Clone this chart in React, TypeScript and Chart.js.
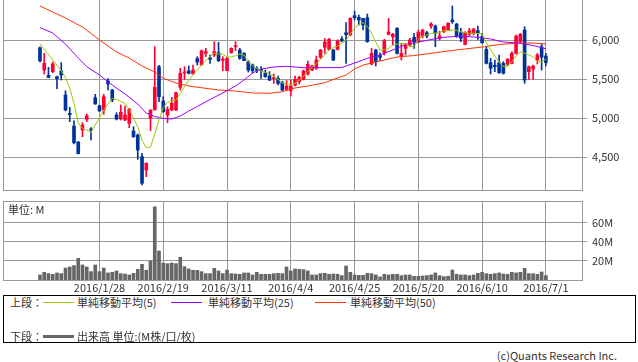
import React, { useEffect, useRef } from "react";
import { Chart, registerables } from "chart.js";

Chart.register(...registerables);

const FONT = "'Noto Sans CJK JP', 'DejaVu Sans', sans-serif";

// Daily candles, 2016/1/7 .. 2016/7/1 (index 0..119)
const opens = [
  5901, 5615, 5547, 5594, 5530, 5603, 5295, 5060, 4897, 4692,
  4846, 4983, 4859, 5260, 5158, 5103, 5474, 5359, 5038, 4987,
  4974, 4932, 4833, 4782, 4504, 4333, 4996, 5103, 5658, 5218,
  5038, 5103, 5103, 5394, 5577, 5603, 5564, 5761, 5680, 5829,
  5773, 5808, 5837, 5740, 5606, 5837, 5914, 5872, 5829, 5722,
  5680, 5632, 5624, 5581, 5538, 5504, 5509, 5453, 5368, 5350,
  5423, 5466, 5496, 5564, 5615, 5637, 5778, 5906, 5880, 5872,
  5880, 6013, 6094, 6064, 6312, 6291, 6278, 6286, 5692, 5872,
  5799, 5837, 6073, 6043, 6150, 5786, 5893, 5936, 6034, 5979,
  6051, 6094, 6180, 6180, 6021, 6107, 6128, 6256, 6205, 6094,
  5944, 6073, 6086, 6120, 6043, 5880, 5709, 5676, 5709, 5701,
  5688, 5701, 5829, 5979, 6128, 5594, 5628, 5744, 5914, 5795,
];
const highs = [
  5914, 5829, 5650, 5718, 5538, 5709, 5350, 5137, 4965, 4700,
  4940, 5051, 4876, 5304, 5165, 5304, 5504, 5368, 5068, 5167,
  5154, 5124, 4889, 4795, 4547, 4427, 5103, 5914, 5676, 5273,
  5145, 5265, 5333, 5637, 5658, 5667, 5680, 5786, 5872, 5893,
  5808, 5979, 5970, 5786, 5778, 5901, 5979, 5893, 5840, 5735,
  5692, 5658, 5658, 5615, 5594, 5564, 5538, 5470, 5479, 5487,
  5538, 5538, 5615, 5731, 5680, 5795, 5880, 6021, 6021, 5880,
  6004, 6043, 6222, 6286, 6372, 6320, 6278, 6333, 5893, 5880,
  5837, 6009, 6278, 6086, 6158, 5957, 5957, 6021, 6086, 6128,
  6137, 6111, 6222, 6192, 6111, 6180, 6222, 6436, 6214, 6150,
  6107, 6150, 6150, 6180, 6086, 5914, 5765, 5744, 5808, 5722,
  5765, 5850, 6064, 6086, 6171, 5667, 5680, 5829, 5949, 5829,
];
const lows = [
  5718, 5564, 5515, 5581, 5376, 5487, 5090, 4953, 4667, 4540,
  4760, 4953, 4718, 5176, 5085, 5047, 5359, 5209, 4974, 4974,
  4966, 4876, 4752, 4470, 4141, 4248, 4837, 5103, 5209, 5073,
  4940, 5094, 5094, 5359, 5496, 5564, 5564, 5680, 5680, 5786,
  5701, 5786, 5722, 5606, 5606, 5829, 5863, 5752, 5735, 5590,
  5577, 5581, 5509, 5521, 5478, 5444, 5423, 5350, 5350, 5282,
  5410, 5436, 5487, 5551, 5606, 5624, 5765, 5829, 5872, 5735,
  5872, 5979, 5701, 6055, 6256, 6192, 6128, 5970, 5680, 5667,
  5735, 5808, 6064, 5936, 5820, 5744, 5808, 5914, 5893, 5966,
  6026, 6026, 6150, 5914, 5998, 6094, 6120, 6214, 6034, 5979,
  5936, 6051, 6064, 6009, 5957, 5692, 5564, 5594, 5573, 5564,
  5667, 5692, 5820, 5966, 5444, 5496, 5496, 5692, 5615, 5667,
];
const closes = [
  5731, 5701, 5520, 5692, 5504, 5551, 5103, 5042, 4683, 4542,
  4910, 5029, 4846, 5180, 5090, 5273, 5436, 5231, 4987, 5073,
  5038, 5112, 4760, 4590, 4163, 4419, 5103, 5394, 5273, 5081,
  5112, 5188, 5325, 5573, 5590, 5573, 5615, 5718, 5863, 5850,
  5752, 5850, 5735, 5752, 5765, 5893, 5927, 5765, 5735, 5615,
  5606, 5615, 5606, 5530, 5487, 5517, 5444, 5359, 5410, 5410,
  5496, 5521, 5603, 5688, 5667, 5744, 5872, 5974, 6009, 5744,
  5991, 5987, 6068, 6278, 6286, 6256, 6192, 5979, 5829, 5722,
  5778, 5991, 6103, 6073, 5829, 5829, 5944, 6000, 5979, 6098,
  6128, 6051, 6205, 6086, 6051, 6171, 6214, 6235, 6043, 6021,
  6094, 6120, 6141, 6086, 5966, 5701, 5637, 5658, 5581, 5573,
  5752, 5829, 6051, 6073, 5487, 5658, 5667, 5808, 5778, 5709,
];
// Volume, millions of shares
const volumes = [
  5.3, 8.1, 6.7, 6.0, 7.4, 6.7, 12.6, 13.7, 15.1, 22.8,
  15.8, 13.7, 8.8, 15.8, 8.8, 12.6, 7.4, 8.1, 9.5, 6.7,
  6.3, 5.3, 7.0, 11.2, 16.5, 10.2, 20.0, 76.9, 30.5, 17.9,
  17.2, 17.9, 17.2, 23.9, 14.0, 11.6, 10.2, 10.2, 8.8, 6.7,
  6.7, 12.3, 9.5, 6.7, 10.5, 6.7, 6.3, 6.0, 7.4, 7.4,
  5.3, 8.1, 6.0, 6.0, 6.0, 6.7, 7.0, 6.7, 13.7, 9.5,
  11.6, 11.2, 10.9, 9.5, 5.3, 5.3, 6.7, 7.0, 6.0, 6.3,
  6.0, 4.6, 14.7, 8.1, 5.3, 4.9, 4.9, 7.0, 6.7, 5.3,
  3.2, 6.0, 5.3, 6.0, 6.0, 4.6, 5.3, 5.3, 3.9, 3.9,
  4.2, 4.6, 5.3, 7.4, 4.6, 3.5, 3.9, 10.5, 6.0, 5.3,
  5.3, 4.6, 5.3, 7.0, 8.1, 6.7, 6.0, 6.7, 7.4, 6.3,
  6.0, 8.1, 7.4, 8.1, 12.3, 6.7, 6.7, 6.0, 8.4, 4.6,
];
// Simple moving average (5), one value per candle
const ma5 = [
  5953, 5885, 5814, 5744, 5679, 5603, 5519, 5385, 5188, 4936,
  4868, 4846, 4814, 4910, 5006, 5103, 5180, 5253, 5237, 5212,
  5186, 5109, 5000, 4885, 4718, 4615, 4628, 4795, 4974, 5135,
  5199, 5218, 5231, 5314, 5404, 5487, 5551, 5615, 5673, 5737,
  5788, 5827, 5821, 5817, 5782, 5782, 5799, 5821, 5808, 5718,
  5673, 5635, 5603, 5583, 5564, 5532, 5496, 5449, 5436, 5432,
  5445, 5487, 5538, 5596, 5654, 5692, 5756, 5801, 5872, 5904,
  5923, 5958, 5994, 6077, 6154, 6199, 6222, 6173, 6090, 5974,
  5865, 5878, 5891, 5936, 5949, 5958, 5949, 5923, 5914, 6006,
  6051, 6064, 6083, 6090, 6096, 6119, 6119, 6128, 6122, 6106,
  6096, 6086, 6086, 6083, 6077, 5962, 5878, 5795, 5718, 5658,
  5667, 5722, 5795, 5846, 5833, 5808, 5786, 5722, 5722, 5756,
];
// Simple moving average (25), read at these candle indices
const ma25Idx = [0, 3, 6, 9, 11, 14, 17, 20, 23, 25, 27, 29, 31, 33, 35, 37, 40, 43, 46, 48, 50, 52, 55, 58, 62, 67, 71, 74, 77, 80, 83, 86, 89, 92, 95, 99, 103, 106, 109, 113, 116, 119];
const ma25Val = [6158, 6090, 5949, 5769, 5658, 5551, 5423, 5308, 5180, 5064, 5019, 4996, 4987, 5026, 5090, 5148, 5237, 5321, 5410, 5487, 5577, 5628, 5654, 5663, 5645, 5645, 5647, 5705, 5765, 5808, 5872, 5942, 5974, 6006, 6035, 6051, 6035, 6013, 5974, 5958, 5929, 5888];
// Simple moving average (50), read at these candle indices
const ma50Idx = [0, 6, 10, 14, 18, 21, 24, 27, 29, 32, 35, 38, 42, 46, 50, 54, 57, 60, 63, 67, 70, 72, 74, 76, 78, 80, 84, 88, 92, 96, 100, 104, 108, 112, 116, 119];
const ma50Val = [6436, 6282, 6167, 6000, 5846, 5769, 5667, 5590, 5509, 5449, 5410, 5388, 5359, 5346, 5321, 5317, 5337, 5385, 5410, 5453, 5513, 5551, 5628, 5679, 5705, 5731, 5782, 5801, 5829, 5859, 5885, 5910, 5942, 5958, 5962, 5949];

const tickIndex = [14, 29, 44, 59, 74, 89, 104, 119];
const tickLabels = ["2016/1/28", "2016/2/19", "2016/3/11", "2016/4/4", "2016/4/25", "2016/5/20", "2016/6/10", "2016/7/1"];
const priceTicks = [4500, 5000, 5500, 6000];
const volumeTicks = [20, 40, 60];

const UP = "#ff0033";
const DOWN = "#003399";
const GRID = "#999999";
const TEXT = "#333333";
const X_MIN = -8.7;
const X_MAX = 127.5;

const noPad = (s: any) => {
  s.paddingTop = 0;
  s.paddingBottom = 0;
  s.paddingLeft = 0;
  s.paddingRight = 0;
};

export default function App() {
  const priceRef = useRef<HTMLCanvasElement>(null);
  const volRef = useRef<HTMLCanvasElement>(null);

  useEffect(() => {
    Chart.defaults.font.family = FONT;
    Chart.defaults.font.size = 11;
    const idx = opens.map((_, i) => i);
    const colors = idx.map((i) => (closes[i] >= opens[i] ? UP : DOWN));

    const xBase = (labels: boolean): any => ({
      type: "linear",
      min: X_MIN,
      max: X_MAX,
      offset: false,
      afterBuildTicks: (s: any) => {
        s.ticks = tickIndex.map((v) => ({ value: v }));
      },
      grid: { color: GRID, drawTicks: false, offset: false, lineWidth: 1 },
      border: { display: true, color: GRID },
      ticks: labels
        ? {
            display: true,
            autoSkip: false,
            maxRotation: 0,
            padding: 1,
            color: TEXT,
            font: { family: FONT, size: 11 },
            callback: (_v: any, i: number) => tickLabels[i],
          }
        : { display: false },
      afterFit: (s: any) => {
        s.height = labels ? 14 : 0;
        noPad(s);
      },
    });

    const leftBorder: any = {
      type: "linear",
      position: "left",
      display: true,
      grid: { display: false },
      ticks: { display: false },
      border: { display: true, color: GRID },
      afterFit: (s: any) => {
        s.width = 0;
        noPad(s);
      },
    };

    const yRight = (min: number, max: number, ticks: number[], fmt: (v: number) => string): any => ({
      type: "linear",
      position: "right",
      min,
      max,
      afterBuildTicks: (s: any) => {
        s.ticks = ticks.map((v) => ({ value: v }));
      },
      grid: { color: GRID, tickLength: 5, drawTicks: true },
      border: { display: true, color: GRID },
      ticks: {
        padding: 5,
        color: TEXT,
        font: { family: FONT, size: 11 },
        callback: (v: any) => fmt(Number(v)),
      },
      afterFit: (s: any) => {
        s.width = 56;
        noPad(s);
      },
    });

    const price = new Chart(priceRef.current as HTMLCanvasElement, {
      type: "bar",
      data: {
        datasets: [
          {
            type: "line",
            data: ma5.map((v, i) => ({ x: i, y: v })),
            borderColor: "#99cc00",
            borderWidth: 1,
            pointRadius: 0,
            tension: 0,
            order: 0,
          } as any,
          {
            type: "line",
            data: ma25Idx.map((x, k) => ({ x, y: ma25Val[k] })),
            borderColor: "#9900ff",
            borderWidth: 1,
            pointRadius: 0,
            tension: 0,
            order: 0,
          } as any,
          {
            type: "line",
            data: ma50Idx.map((x, k) => ({ x, y: ma50Val[k] })),
            borderColor: "#ff3300",
            borderWidth: 1,
            pointRadius: 0,
            tension: 0,
            order: 0,
          } as any,
          {
            type: "bar",
            data: idx.map((i) => ({ x: i, y: [opens[i], closes[i]] })),
            backgroundColor: colors,
            barThickness: 3,
            minBarLength: 1,
            grouped: false,
            order: 1,
          } as any,
          {
            type: "bar",
            data: idx.map((i) => ({ x: i, y: [lows[i], highs[i]] })),
            backgroundColor: colors,
            barThickness: 1,
            grouped: false,
            order: 2,
          } as any,
        ],
      },
      options: {
        animation: false,
        responsive: false,
        events: [],
        layout: { padding: { left: 3, right: 0, top: 0, bottom: 1 } },
        plugins: { legend: { display: false }, tooltip: { enabled: false } },
        scales: {
          x: xBase(false),
          y: yRight(4077, 6513, priceTicks, (v) => v.toLocaleString("en-US")),
          yL: leftBorder,
        },
      } as any,
    });

    const vol = new Chart(volRef.current as HTMLCanvasElement, {
      type: "bar",
      data: {
        datasets: [
          {
            data: volumes.map((v, i) => ({ x: i, y: v })),
            backgroundColor: "#666666",
            barThickness: 3,
            grouped: false,
          } as any,
        ],
      },
      options: {
        animation: false,
        responsive: false,
        events: [],
        layout: { padding: { left: 3, right: 0, top: 5, bottom: 0 } },
        plugins: { legend: { display: false }, tooltip: { enabled: false } },
        scales: {
          x: xBase(true),
          xT: {
            type: "linear",
            position: "top",
            display: true,
            grid: { display: false },
            ticks: { display: false },
            border: { display: true, color: GRID },
            afterFit: (s: any) => {
              s.height = 0;
              noPad(s);
            },
          },
          y: yRight(0, 83, volumeTicks, (v) => `${v}M`),
          yL: leftBorder,
        },
      } as any,
    });

    return () => {
      price.destroy();
      vol.destroy();
    };
  }, []);

  const txt: React.CSSProperties = {
    position: "absolute",
    fontFamily: FONT,
    fontSize: 11,
    color: TEXT,
    lineHeight: "14px",
    whiteSpace: "nowrap",
  };
  const line = (left: number, top: number, color: string, h: number): React.CSSProperties => ({
    position: "absolute",
    left,
    top,
    width: 31,
    height: h,
    background: color,
  });

  return (
    <div style={{ position: "absolute", left: 0, top: 0, width: 638, height: 362, background: "#fff", overflow: "hidden" }}>
      <canvas ref={priceRef} width={638} height={191} style={{ position: "absolute", left: 0, top: 0, width: 638, height: 191 }} />
      <canvas ref={volRef} width={638} height={98} style={{ position: "absolute", left: 0, top: 196, width: 638, height: 98 }} />
      <div style={{ ...txt, left: 8, top: 202 }}>単位: M</div>
      <div style={{ position: "absolute", left: 3, top: 295, width: 631, height: 46, border: "1px solid #000" }} />
      <div style={{ ...txt, left: 10, top: 295 }}>上段：</div>
      <div style={line(43, 302, "#99cc00", 1)} />
      <div style={{ ...txt, left: 77, top: 295 }}>単純移動平均(5)</div>
      <div style={line(171, 302, "#9900ff", 1)} />
      <div style={{ ...txt, left: 208, top: 295 }}>単純移動平均(25)</div>
      <div style={line(315, 302, "#ff3300", 1)} />
      <div style={{ ...txt, left: 350, top: 295 }}>単純移動平均(50)</div>
      <div style={{ ...txt, left: 10, top: 329 }}>下段：</div>
      <div style={line(43, 335, "#666666", 3)} />
      <div style={{ ...txt, left: 77, top: 329 }}>出来高 単位:(M株/口/枚)</div>
      <div style={{ ...txt, right: 21, top: 348 }}>(c)Quants Research Inc.</div>
    </div>
  );
}
